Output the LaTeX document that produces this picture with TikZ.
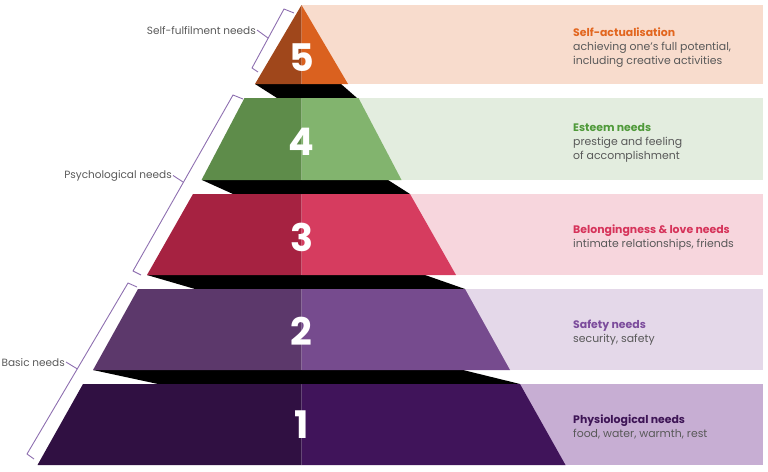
\documentclass[tikz,border=0pt]{standalone}
\usepackage{fontspec}
\setmainfont{Poppins}

\definecolor{orangeD}{HTML}{A0471B}
\definecolor{orangeL}{HTML}{DA611F}
\definecolor{orangeB}{HTML}{F8DCCD}
\definecolor{orangeT}{HTML}{E2661F}
\definecolor{greenD}{HTML}{5E8C4A}
\definecolor{greenL}{HTML}{82B46E}
\definecolor{greenB}{HTML}{E3EDDF}
\definecolor{greenT}{HTML}{4F9A3A}
\definecolor{redD}{HTML}{A62241}
\definecolor{redL}{HTML}{D63C5F}
\definecolor{redB}{HTML}{F7D6DD}
\definecolor{redT}{HTML}{D6335A}
\definecolor{violetD}{HTML}{5C386B}
\definecolor{violetL}{HTML}{764B8E}
\definecolor{violetB}{HTML}{E4D8E9}
\definecolor{violetT}{HTML}{7C4C9C}
\definecolor{plumD}{HTML}{301042}
\definecolor{plumL}{HTML}{40145A}
\definecolor{plumB}{HTML}{C7AED3}
\definecolor{plumT}{HTML}{3E1556}
\definecolor{textgray}{HTML}{595959}
\definecolor{bracketc}{HTML}{8E6FB0}

\tikzset{
  num/.style={text=white, inner sep=0pt, font=\fontsize{38}{38}\selectfont\bfseries},
  info/.style={anchor=base west, align=left, inner sep=0pt, text=textgray,
    font=\fontsize{10.9}{14}\selectfont},
  group/.style={anchor=base east, inner sep=1pt, text=textgray,
    font=\fontsize{10.5}{12}\selectfont},
  brace/.style={draw=bracketc, line width=0.9pt, line join=round},
}

\begin{document}
\begin{tikzpicture}[x=1pt,y=-1pt]
\useasboundingbox (0,0) rectangle (768,471);

% bands
\fill[orangeB] (301.5,5) rectangle (763,84);
\fill[greenB]  (357,98) rectangle (763,180);
\fill[redB]    (410,194) rectangle (763,275);
\fill[violetB] (465,289) rectangle (763,370);
\fill[plumB]   (520,384) rectangle (763,465);

% shadows
\fill[black] (255,84) -- (341,84) -- (357,98) -- (277,98) -- cycle;
\fill[black] (202,180) -- (388,180) -- (410,194) -- (233,194) -- cycle;
\fill[black] (147,275) -- (425,275) -- (465,289) -- (195,289) -- cycle;
\fill[black] (93,370) -- (463,370) -- (520,384) -- (158,384) -- cycle;

% levels
\fill[orangeD] (301.5,5) -- (301.5,84) -- (255,84) -- cycle;
\fill[orangeL] (301.5,5) -- (348,84) -- (301.5,84) -- cycle;
\foreach \yt/\yb/\ha/\hb/\cd/\cl in {98/180/57/100/greenD/greenL,
    194/275/108.5/154.5/redD/redL, 289/370/163.5/208.5/violetD/violetL,
    384/465/218.5/264/plumD/plumL}
{
  \fill[\cd] (301.5-\ha,\yt) -- (301.5,\yt) -- (301.5,\yb) -- (301.5-\hb,\yb) -- cycle;
  \fill[\cl] (301.5,\yt) -- (301.5+\ha,\yt) -- (301.5+\hb,\yb) -- (301.5,\yb) -- cycle;
}

\foreach \n/\yc in {5/57.5, 4/142, 3/237, 2/331, 1/425}
  \node[num] (n\n) at (301.5,\yc) {\n};

% texts (base = last line)
\node[info] (t5) at (573,64) {\textcolor{orangeT}{\bfseries Self-actualisation}\\
  achieving one’s full potential,\\including creative activities};
\node[info] (t4) at (573,159) {\textcolor{greenT}{\bfseries Esteem needs}\\
  prestige and feeling\\of accomplishment};
\node[info] (t3) at (573,247) {\textcolor{redT}{\bfseries Belongingness \& love needs}\\
  intimate relationships, friends};
\node[info] (t2) at (573,342) {\textcolor{violetT}{\bfseries Safety needs}\\
  security, safety};
\node[info] (t1) at (573,437) {\textcolor{plumT}{\bfseries Physiological needs}\\
  food, water, warmth, rest};

% brackets
\node[group] (gSelf) at (257,34) {Self-fulfilment needs};
\node[group] (gPsy) at (173,178) {Psychological needs};
\node[group] (gBasic) at (66,366) {Basic needs};
\coordinate (cSelf) at (268,38);
\coordinate (cPsy) at (183,182);
\coordinate (cBasic) at (77.5,369);

\draw[brace] (294,13) -- (284,9) -- (252,68) -- (258,72);
\draw[brace] (243,99) -- (233,95) -- (133,271) -- (141,275);
\draw[brace] (137,287) -- (128,283) -- (27,454) -- (34,459);
\draw[brace] (gSelf.east) -- (cSelf);
\draw[brace] (gPsy.east) -- (cPsy);
\draw[brace] (gBasic.east) -- (cBasic);

\end{tikzpicture}
\end{document}
